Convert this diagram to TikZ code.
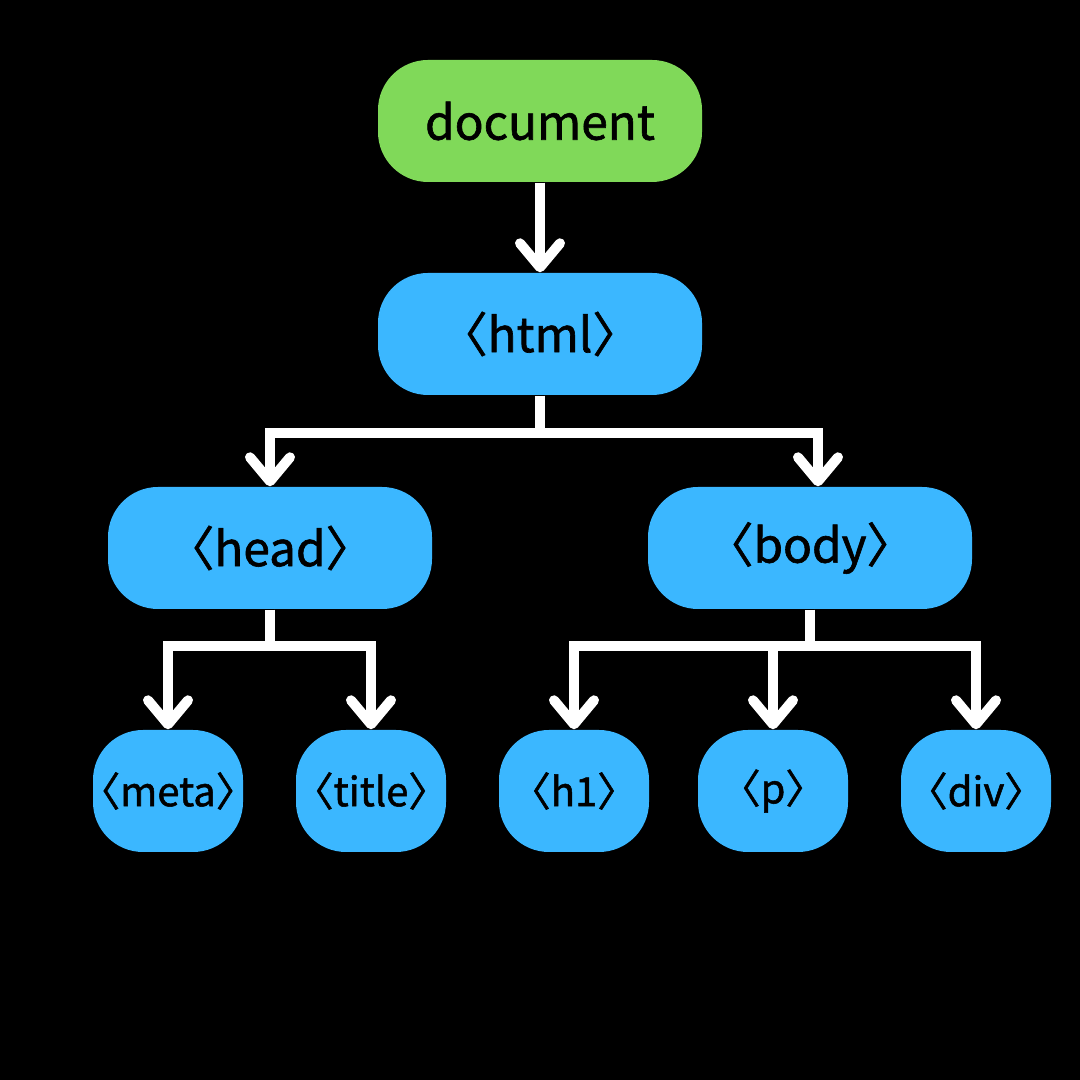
\documentclass[tikz,border=0pt]{standalone}
\usepackage{fontspec}
\setmainfont{Noto Sans CJK KR}[FakeBold=1.3]
\usetikzlibrary{arrows.meta,positioning}
\definecolor{docGreen}{HTML}{80D959}
\definecolor{tagBlue}{HTML}{3BB7FF}
\newcommand{\tagtext}[1]{\kern-.55em〈#1〉\kern-.55em}
\tikzset{
  box/.style={fill=tagBlue,rounded corners=0.5cm,minimum height=1.22cm,inner sep=0pt,text=black},
  bigbox/.style={box,minimum width=3.24cm,font=\fontsize{13.6}{16}\selectfont},
  leafbox/.style={box,minimum width=1.5cm,font=\fontsize{11.4}{14}\selectfont},
  link/.style={white,line width=0.1cm,-{Straight Barb[round,length=2.4mm,width=4mm]}}
}
\begin{document}
\begin{tikzpicture}
      \fill [black] (0,0) rectangle (10.8,10.8);

      \node [bigbox,fill=docGreen] (document) at (5.40,9.59) {document};
      \node [bigbox] (html) at (5.40,7.46) {\tagtext{html}};
      \node [bigbox] (head) at (2.70,5.32) {\tagtext{head}};
      \node [bigbox] (body) at (8.10,5.32) {\tagtext{body}};

      \node [leafbox] (meta) at (1.68,2.89) {\tagtext{meta}};
      \node [leafbox] (title) at (3.71,2.89) {\tagtext{title}};
      \node [leafbox] (h1) at (5.74,2.89) {\tagtext{h1}};
      \node [leafbox] (p) at (7.73,2.89) {\tagtext{p}};
      \node [leafbox] (div) at (9.76,2.89) {\tagtext{div}};

      \draw [link] (document) -- (html);

      \draw [link] (html.south) -- ++(0,-0.37) coordinate (htmlfork) -| (head.north);
      \draw [link] (htmlfork) -| ([xshift=0.08cm]body.north);

      \draw [link] (head.south) -- ++(0,-0.36) coordinate (headfork) -| (meta.north);
      \draw [link] (headfork) -| (title.north);

      \draw [link] (body.south) -- ++(0,-0.36) coordinate (bodyfork) -| (h1.north);
      \draw [link] (bodyfork) -| (p.north);
      \draw [link] (bodyfork) -| (div.north);
    \end{tikzpicture}
\end{document}
